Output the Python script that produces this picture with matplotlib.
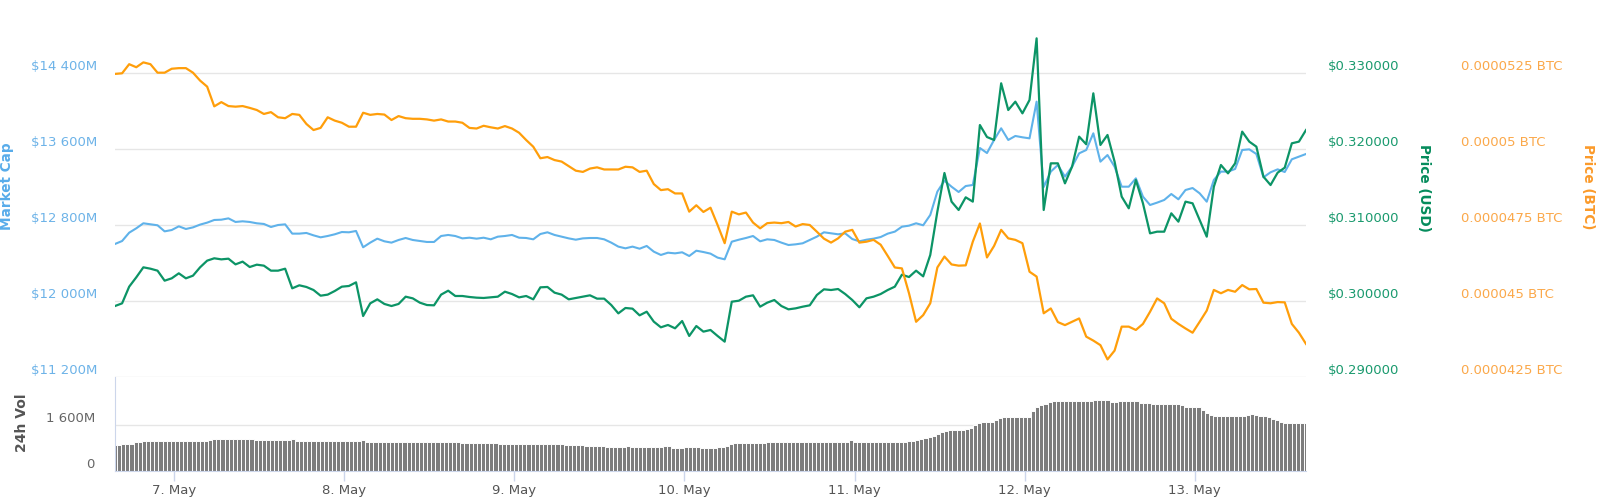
import numpy as np
import pandas as pd
import matplotlib
matplotlib.use('Agg')
import matplotlib.pyplot as plt
import matplotlib.dates as mdates
from matplotlib.ticker import FixedLocator, FuncFormatter

# Hourly samples for the price lines, 6 May 15:41 -> 13 May 15:41
times = pd.date_range('2019-05-06 15:41', periods=169, freq='h')
# Volume bars come every 35 minutes over the same week
vol_times = pd.date_range('2019-05-06 15:41', periods=289, freq='35min')

# Market cap, millions of USD
market_cap = [
    12600, 12631, 12719, 12765, 12818, 12807, 12797, 12733, 12747, 12786,
    12758, 12775, 12804, 12825, 12853, 12856, 12870, 12832, 12839, 12832,
    12818, 12811, 12779, 12800, 12807, 12709, 12709, 12716, 12691, 12670,
    12684, 12702, 12726, 12723, 12737, 12565, 12614, 12656, 12628, 12614,
    12642, 12663, 12642, 12631, 12621, 12621, 12684, 12695, 12684, 12659,
    12666, 12656, 12666, 12649, 12677, 12684, 12695, 12666, 12663, 12649,
    12705, 12723, 12695, 12677, 12659, 12645, 12659, 12663, 12663, 12649,
    12614, 12572, 12554, 12572, 12550, 12579, 12519, 12484, 12508, 12501,
    12512, 12473, 12529, 12515, 12498, 12456, 12438, 12624, 12645, 12663,
    12684, 12628, 12649, 12642, 12614, 12589, 12596, 12607, 12642, 12677,
    12723, 12712, 12702, 12712, 12652, 12628, 12645, 12656, 12673, 12709,
    12730, 12782, 12793, 12818, 12797, 12906, 13152, 13268, 13204, 13148,
    13211, 13222, 13612, 13559, 13697, 13820, 13697, 13739, 13725, 13714,
    14101, 13200, 13363, 13433, 13310, 13415, 13556, 13591, 13767, 13468,
    13538, 13415, 13204, 13204, 13292, 13099, 13011, 13036, 13064, 13127,
    13071, 13169, 13190, 13134, 13046, 13275, 13363, 13363, 13391, 13591,
    13598, 13549, 13303, 13356, 13387, 13359, 13493, 13521, 13549,
]

# Price in USD
price_usd = [
    0.29932, 0.29967, 0.30187, 0.30310, 0.30442, 0.30424, 0.30398, 0.30266, 0.30297, 0.30363,
    0.30297, 0.30332, 0.30442, 0.30530, 0.30561, 0.30547, 0.30556, 0.30481, 0.30517, 0.30446,
    0.30477, 0.30464, 0.30398, 0.30398, 0.30424, 0.30165, 0.30205, 0.30183, 0.30143, 0.30068,
    0.30082, 0.30130, 0.30187, 0.30196, 0.30244, 0.29800, 0.29967, 0.30020, 0.29959, 0.29932,
    0.29959, 0.30055, 0.30033, 0.29976, 0.29945, 0.29941, 0.30082, 0.30134, 0.30064, 0.30064,
    0.30051, 0.30042, 0.30038, 0.30046, 0.30055, 0.30121, 0.30090, 0.30046, 0.30064, 0.30020,
    0.30178, 0.30183, 0.30108, 0.30082, 0.30020, 0.30038, 0.30055, 0.30073, 0.30029, 0.30029,
    0.29945, 0.29835, 0.29906, 0.29897, 0.29809, 0.29857, 0.29726, 0.29651, 0.29682, 0.29638,
    0.29734, 0.29537, 0.29668, 0.29594, 0.29616, 0.29537, 0.29462, 0.29989, 0.30002, 0.30055,
    0.30073, 0.29923, 0.29976, 0.30011, 0.29932, 0.29888, 0.29901, 0.29923, 0.29941, 0.30077,
    0.30152, 0.30143, 0.30156, 0.30090, 0.30011, 0.29915, 0.30033, 0.30055, 0.30090, 0.30143,
    0.30187, 0.30345, 0.30314, 0.30398, 0.30323, 0.30605, 0.31176, 0.31686, 0.31308, 0.31198,
    0.31365, 0.31308, 0.32318, 0.32160, 0.32121, 0.32868, 0.32516, 0.32626, 0.32472, 0.32648,
    0.33461, 0.31198, 0.31813, 0.31813, 0.31549, 0.31769, 0.32165, 0.32064, 0.32736, 0.32055,
    0.32187, 0.31835, 0.31374, 0.31220, 0.31593, 0.31286, 0.30890, 0.30912, 0.30912, 0.31154,
    0.31044, 0.31308, 0.31286, 0.31066, 0.30846, 0.31505, 0.31791, 0.31681, 0.31813, 0.32231,
    0.32099, 0.32033, 0.31637, 0.31527, 0.31690, 0.31756, 0.32077, 0.32099, 0.32252,
]

# Price in BTC, micro-BTC
price_btc_micro = [
    52.48, 52.50, 52.80, 52.70, 52.86, 52.80, 52.52, 52.52, 52.65, 52.67,
    52.67, 52.52, 52.26, 52.06, 51.41, 51.55, 51.42, 51.40, 51.42, 51.36,
    51.29, 51.16, 51.22, 51.05, 51.02, 51.16, 51.13, 50.83, 50.63, 50.70,
    51.05, 50.94, 50.87, 50.74, 50.74, 51.20, 51.13, 51.16, 51.14, 50.96,
    51.09, 51.02, 51.00, 51.00, 50.98, 50.94, 50.98, 50.91, 50.91, 50.87,
    50.70, 50.68, 50.77, 50.72, 50.68, 50.76, 50.68, 50.54, 50.30, 50.08,
    49.70, 49.74, 49.64, 49.59, 49.44, 49.29, 49.25, 49.36, 49.40, 49.33,
    49.33, 49.33, 49.42, 49.40, 49.25, 49.29, 48.85, 48.65, 48.68, 48.54,
    48.54, 47.94, 48.15, 47.93, 48.07, 47.50, 46.90, 47.94, 47.85, 47.91,
    47.58, 47.39, 47.56, 47.58, 47.56, 47.60, 47.45, 47.53, 47.50, 47.28,
    47.05, 46.92, 47.06, 47.28, 47.34, 46.92, 46.95, 47.01, 46.85, 46.48,
    46.10, 46.07, 45.25, 44.31, 44.53, 44.92, 46.10, 46.46, 46.20, 46.16,
    46.17, 46.95, 47.55, 46.43, 46.81, 47.34, 47.06, 47.01, 46.90, 45.96,
    45.80, 44.59, 44.75, 44.30, 44.20, 44.31, 44.42, 43.82, 43.69, 43.54,
    43.07, 43.36, 44.15, 44.15, 44.04, 44.24, 44.64, 45.08, 44.92, 44.41,
    44.24, 44.09, 43.95, 44.31, 44.68, 45.36, 45.25, 45.36, 45.30, 45.52,
    45.38, 45.39, 44.94, 44.92, 44.96, 44.95, 44.24, 43.95, 43.58,
]
price_btc = np.array(price_btc_micro) * 1e-6

# 24h volume, millions of USD (one value per 35-minute bar)
volume_24h = [
    908, 908, 943, 943, 943, 1001, 1001, 1036, 1036, 1036,
    1036, 1036, 1036, 1036, 1036, 1036, 1036, 1036, 1036, 1036,
    1036, 1036, 1036, 1083, 1118, 1118, 1118, 1118, 1118, 1118,
    1118, 1118, 1118, 1118, 1083, 1083, 1083, 1083, 1083, 1083,
    1083, 1083, 1083, 1106, 1060, 1048, 1048, 1048, 1048, 1048,
    1048, 1048, 1048, 1048, 1048, 1048, 1048, 1048, 1048, 1048,
    1071, 1025, 1025, 1025, 1025, 1025, 1025, 1025, 1025, 1025,
    1025, 1025, 1025, 1025, 1025, 1025, 1000, 1000, 1000, 1000,
    1000, 1000, 1000, 1000, 990, 990, 990, 990, 990, 990,
    990, 990, 990, 960, 960, 960, 960, 960, 960, 960,
    960, 940, 940, 940, 940, 940, 940, 940, 940, 910,
    910, 910, 910, 910, 890, 890, 890, 890, 873, 850,
    827, 827, 827, 827, 873, 850, 850, 850, 850, 827,
    827, 850, 850, 873, 873, 792, 792, 792, 850, 850,
    850, 850, 792, 792, 792, 792, 827, 827, 873, 932,
    967, 990, 990, 990, 990, 990, 990, 990, 1025, 1025,
    1025, 1025, 1025, 1025, 1025, 1025, 1025, 1025, 1025, 1025,
    1025, 1025, 1025, 1025, 1025, 1025, 1025, 1025, 1083, 1025,
    1025, 1025, 1025, 1025, 1025, 1025, 1025, 1025, 1025, 1025,
    1025, 1025, 1036, 1060, 1083, 1106, 1153, 1200, 1234, 1304,
    1351, 1409, 1432, 1432, 1432, 1432, 1455, 1490, 1607, 1689,
    1723, 1723, 1723, 1770, 1840, 1874, 1874, 1874, 1886, 1898,
    1898, 1874, 2107, 2224, 2294, 2352, 2421, 2456, 2456, 2456,
    2445, 2433, 2433, 2433, 2433, 2433, 2433, 2480, 2480, 2480,
    2480, 2410, 2398, 2433, 2456, 2456, 2456, 2456, 2386, 2386,
    2386, 2340, 2340, 2340, 2340, 2340, 2340, 2340, 2294, 2247,
    2247, 2247, 2224, 2131, 2038, 1945, 1921, 1921, 1921, 1921,
    1921, 1921, 1921, 1921, 1956, 1991, 1945, 1921, 1921, 1886,
    1828, 1770, 1712, 1677, 1665, 1665, 1665, 1665, 1665,
]

mc_ticks = [11200, 12000, 12800, 13600, 14400]
usd_ticks = [0.29, 0.30, 0.31, 0.32, 0.33]
btc_ticks = [0.0000425, 0.000045, 0.0000475, 0.00005, 0.0000525]
vol_ticks = [0, 1600]

BLUE = '#5fb2ea'
GREEN = '#0c9466'
ORANGE = '#ff9e0a'
GRID = '#e6e6e6'
AXIS = '#ccd6eb'

W, H = 1600, 504


def rect(x0, y0, x1, y1):
    # pixel box (top-left origin) -> figure fraction
    return [x0 / W, 1 - y1 / H, (x1 - x0) / W, (y1 - y0) / H]


fig = plt.figure(figsize=(W / 100, H / 100), dpi=100)
ax = fig.add_axes(rect(115, 30, 1306, 376.7))
axv = fig.add_axes(rect(115, 376.7, 1306, 471), sharex=ax)
ax2 = ax.twinx()
ax3 = ax.twinx()

# Lines
ax.plot(times, market_cap, color=BLUE, lw=1.5, solid_joinstyle='round')
ax2.plot(times, price_usd, color=GREEN, lw=1.6, solid_joinstyle='round')
ax3.plot(times, price_btc, color=ORANGE, lw=1.6, solid_joinstyle='round')

ax.set_ylim(11200, 14856.7)
ax2.set_ylim(0.29, 0.335709)
ax3.set_ylim(0.0000425, 0.000053927)
ax.set_xlim(times[0], times[-1])

# Left axis (market cap)
ax.yaxis.set_major_locator(FixedLocator(mc_ticks))
ax.yaxis.set_major_formatter(FuncFormatter(lambda v, p: '$' + f'{v:,.0f}'.replace(',', ' ') + 'M'))
ax.tick_params(axis='y', length=0, pad=13, labelcolor='#6db3e8', labelsize=9.5)
ax.tick_params(axis='x', bottom=False, labelbottom=False)
ax.grid(axis='y', color=GRID, lw=1)
ax.set_axisbelow(True)

# Right axis (USD)
ax2.yaxis.set_major_locator(FixedLocator(usd_ticks))
ax2.yaxis.set_major_formatter(FuncFormatter(lambda v, p: f'${v:.6f}'))
ax2.tick_params(axis='y', length=0, pad=15.8, labelcolor='#1a9a6e', labelsize=9.5)

# Far right axis (BTC)
ax3.yaxis.set_major_locator(FixedLocator(btc_ticks))
ax3.yaxis.set_major_formatter(FuncFormatter(lambda v, p: f'{v:.7f}'.rstrip('0') + ' BTC'))
ax3.tick_params(axis='y', length=0, pad=111.6, labelcolor='#fba84a', labelsize=9.5)

for a in (ax, ax2, ax3):
    for s in a.spines.values():
        s.set_visible(False)
    plt.setp(a.get_yticklabels(), va='bottom')

# Volume pane
axv.bar(vol_times, volume_24h, width=35 / 1440, color='#7d7d7d', edgecolor='white', linewidth=0.7)
axv.set_ylim(0, 3294)
axv.yaxis.set_major_locator(FixedLocator(vol_ticks))
axv.yaxis.set_major_formatter(FuncFormatter(lambda v, p: '0' if v == 0 else f'{v:,.0f}'.replace(',', ' ') + 'M'))
axv.tick_params(axis='y', length=0, pad=14.4, labelcolor='#666666', labelsize=9.5)
plt.setp(axv.get_yticklabels(), va='bottom')
axv.grid(axis='y', color=GRID, lw=1)
axv.set_axisbelow(True)
for name in ('top', 'right'):
    axv.spines[name].set_visible(False)
axv.spines['left'].set_color(AXIS)
axv.spines['bottom'].set_color(AXIS)

axv.xaxis.set_major_locator(mdates.DayLocator())
axv.xaxis.set_major_formatter(FuncFormatter(lambda v, p: f'{mdates.num2date(v).day}. May'))
axv.tick_params(axis='x', length=7.2, width=1, color=AXIS, pad=2.5, labelcolor='#555555', labelsize=9.5)

# Axis titles
fig.text(7.5 / W, 1 - 186 / H, 'Market Cap', rotation=90, color='#58acea',
         fontsize=9.8, fontweight='bold', ha='center', va='center')
fig.text(22 / W, 1 - 423 / H, '24h Vol', rotation=90, color='#555555',
         fontsize=10, fontweight='bold', ha='center', va='center')
fig.text(1424 / W, 1 - 187.5 / H, 'Price (USD)', rotation=270, color='#058c5c',
         fontsize=9.8, fontweight='bold', ha='center', va='center')
fig.text(1588 / W, 1 - 187 / H, 'Price (BTC)', rotation=270, color='#fb9a2a',
         fontsize=9.8, fontweight='bold', ha='center', va='center')

fig.savefig('out.png', dpi=100)
